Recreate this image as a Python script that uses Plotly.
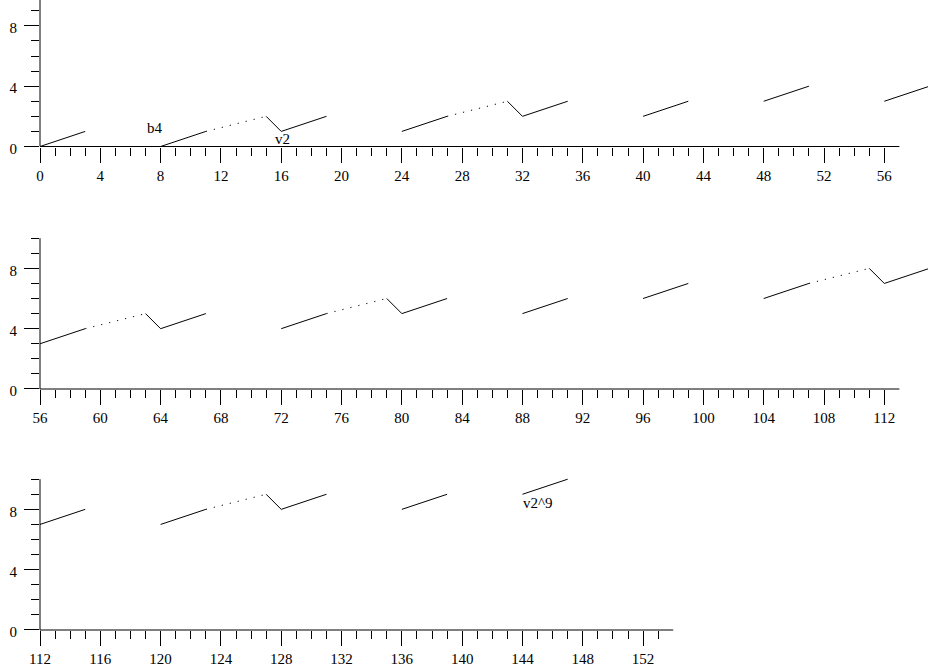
import plotly.graph_objects as go

# ---- data ----
solid_x = [[0, 3], [8, 11], [15, 16, 19], [24, 27], [31, 32, 35], [40, 43], [48, 51],
           [56, 59], [63, 64, 67], [72, 75], [79, 80, 83], [88, 91], [96, 99], [104, 107],
           [111, 112, 115], [120, 123], [127, 128, 131], [136, 139], [144, 147]]
solid_y = [[0, 1], [0, 1], [2, 1, 2], [1, 2], [3, 2, 3], [2, 3], [3, 4],
           [3, 4], [5, 4, 5], [4, 5], [6, 5, 6], [5, 6], [6, 7], [6, 7],
           [8, 7, 8], [7, 8], [9, 8, 9], [8, 9], [9, 10]]
dotted_x = [[11, 15], [27, 31], [59, 63], [75, 79], [107, 111], [123, 127]]
dotted_y = [[1, 2], [2, 3], [4, 5], [5, 6], [7, 8], [8, 9]]

label_text = ["b4", "v2", "v2^9"]
label_x = [7.66, 16.1, 145.0]
label_y = [1.22, 0.47, 8.4]
label_panel = [0, 0, 2]

panel_start = [0, 56, 112]
panel_tick_end = [56, 112, 153]
panel_axis_end = [57, 113, 154]

y_major = [0, 4, 8]
y_minor = [1, 2, 3, 5, 6, 7, 9, 10]
y_axis_top = 10

# ---- layout geometry ----
W, H = 928, 670
PX = 15.077          # pixels per x unit
PY = 15.08           # pixels per y unit
LEFT = 40
yzero_px = [146.5, 389, 630]
FONT = dict(family="Liberation Serif, Times New Roman, serif", size=15, color="black")


def join(segs):
    out = []
    for s in segs:
        out += list(s) + [None]
    return out


sx, sy = join(solid_x), join(solid_y)
dx, dy = join(dotted_x), join(dotted_y)

fig = go.Figure()
shapes = []
annotations = []
layout = {}

for i in range(3):
    n = "" if i == 0 else str(i + 1)
    xa, ya = "x" + n, "y" + n
    fig.add_trace(go.Scatter(x=sx, y=sy, mode="lines", xaxis=xa, yaxis=ya,
                             line=dict(color="black", width=1), hoverinfo="skip"))
    fig.add_trace(go.Scatter(x=dx, y=dy, mode="lines", xaxis=xa, yaxis=ya,
                             line=dict(color="black", width=1, dash="1.2px,7px"),
                             hoverinfo="skip"))

    x0 = panel_start[i]
    x1 = x0 + (W - LEFT) / PX
    ytop = min(10.4, yzero_px[i] / PY)
    bottom_px = yzero_px[i]
    top_px = yzero_px[i] - ytop * PY
    majors = [v for v in range(x0, panel_tick_end[i] + 1) if v % 4 == 0]
    minors = [v for v in range(x0, panel_tick_end[i] + 1) if v % 4 != 0]

    layout["xaxis" + n] = dict(
        domain=[LEFT / W, 1], range=[x0, x1], anchor=ya, automargin=False,
        showgrid=False, zeroline=False, showline=False,
        tickmode="array", tickvals=majors, ticktext=[str(v) for v in majors],
        ticks="outside", ticklen=15, tickwidth=1, tickcolor="black",
        minor=dict(tickmode="array", tickvals=minors, ticks="outside",
                   ticklen=8, tickwidth=1, tickcolor="black", showgrid=False),
        tickfont=FONT, fixedrange=True,
    )
    layout["yaxis" + n] = dict(
        domain=[1 - bottom_px / H, 1 - top_px / H], range=[0, ytop], anchor=xa,
        automargin=False,
        showgrid=False, zeroline=False, showline=False,
        tickmode="array", tickvals=y_major, ticktext=[str(v) for v in y_major],
        ticks="outside", ticklen=15, tickwidth=1, tickcolor="black",
        minor=dict(tickmode="array", tickvals=y_minor, ticks="outside",
                   ticklen=8, tickwidth=1, tickcolor="black", showgrid=False),
        tickfont=FONT, ticklabelshift=2, ticklabelstandoff=4, fixedrange=True,
    )
    # axis lines
    shapes.append(dict(type="line", xref=xa, yref=ya + " domain",
                       x0=x0, x1=panel_axis_end[i], y0=0, y1=0,
                       line=dict(color="black", width=1)))
    shapes.append(dict(type="line", xref=xa + " domain", yref=ya,
                       x0=0, x1=0, y0=0, y1=y_axis_top,
                       line=dict(color="black", width=1)))

for t, x, y, p in zip(label_text, label_x, label_y, label_panel):
    n = "" if p == 0 else str(p + 1)
    annotations.append(dict(text=t, x=x, y=y, xref="x" + n, yref="y" + n,
                            showarrow=False, font=FONT,
                            xanchor="center", yanchor="middle"))

fig.update_layout(
    width=W, height=H, margin=dict(l=0, r=0, t=0, b=0, autoexpand=False),
    paper_bgcolor="white", plot_bgcolor="white", showlegend=False,
    shapes=shapes, annotations=annotations, **layout,
)

fig.write_html("out.html")
